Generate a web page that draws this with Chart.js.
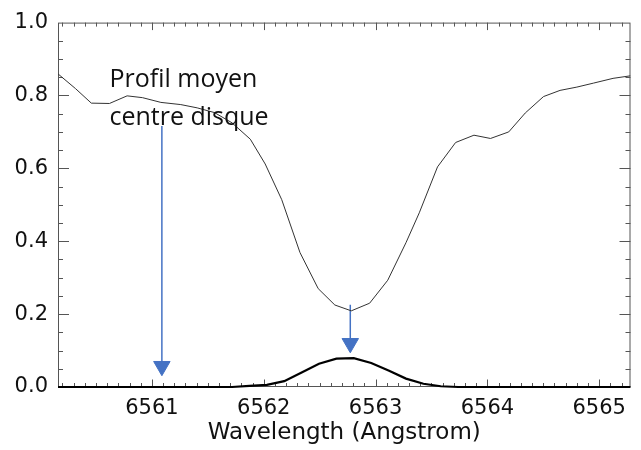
<!DOCTYPE html>
<html>
<head>
<meta charset="utf-8">
<script src="https://cdn.jsdelivr.net/npm/chart.js@4.4.1/dist/chart.umd.min.js"></script>
<style>
  body { margin: 0; background: #fff; }
  #wrap { width: 641px; height: 450px; }
</style>
</head>
<body>
<div id="wrap"><canvas id="profil"></canvas></div>
<script>
// Profil moyen centre disque (longueur d'onde en Angstrom)
var lambdaProfil = [6560.161, 6560.316, 6560.458, 6560.620, 6560.778, 6560.916, 6561.080, 6561.258,
  6561.405, 6561.560, 6561.716, 6561.880, 6562.013, 6562.161, 6562.324, 6562.487, 6562.636,
  6562.783, 6562.947, 6563.109, 6563.272, 6563.391, 6563.554, 6563.716, 6563.880, 6564.028,
  6564.191, 6564.339, 6564.502, 6564.650, 6564.800, 6564.950, 6565.124, 6565.280];
var profilMoyen = [0.859, 0.819, 0.779, 0.778, 0.799, 0.794, 0.781, 0.775,
  0.766, 0.753, 0.725, 0.680, 0.612, 0.514, 0.369, 0.270, 0.225,
  0.209, 0.230, 0.293, 0.396, 0.478, 0.604, 0.671, 0.691, 0.682,
  0.700, 0.752, 0.797, 0.814, 0.823, 0.834, 0.847, 0.854];

// Raie en emission (trait epais)
var lambdaEmission = [6560.16, 6561.716, 6561.872, 6562.028, 6562.183, 6562.339, 6562.494, 6562.650,
  6562.805, 6562.961, 6563.116, 6563.272, 6563.428, 6563.583, 6563.739, 6565.28];
var emission = [0, 0, 0.003, 0.006, 0.016, 0.040, 0.064, 0.078,
  0.079, 0.066, 0.045, 0.023, 0.009, 0.002, 0, 0];

// Fleches bleues (x, haut, centre de la pointe)
var flecheX = [6561.089, 6562.774];
var flecheHaut = [0.716, 0.226];
var flecheBas = [0.057, 0.120];

// Graduations
var ticksX = [6561, 6562, 6563, 6564, 6565];
var ticksY = [0.0, 0.2, 0.4, 0.6, 0.8, 1.0];

var annotation = ['Profil moyen', 'centre disque'];

var bleu = '#4472c4';

function points(xs, ys) {
  return xs.map(function (x, i) { return { x: x, y: ys[i] }; });
}

var fleches = flecheX.map(function (x, i) {
  return {
    data: [{ x: x, y: flecheHaut[i] }, { x: x, y: flecheBas[i] }],
    showLine: true,
    borderColor: bleu,
    borderWidth: 1.5,
    pointRadius: [0, 9.5],
    pointStyle: 'triangle',
    pointRotation: 180,
    pointBackgroundColor: bleu,
    pointBorderColor: bleu,
    pointBorderWidth: 1
  };
});

// cadre + petites graduations vers l'interieur (style IDL)
var cadre = {
  id: 'cadre',
  beforeDatasetsDraw: function (chart) {
    var c = chart.ctx, a = chart.chartArea;
    var sx = chart.scales.x, sy = chart.scales.y;
    c.save();
    c.strokeStyle = '#555';
    c.lineWidth = 1;
    c.strokeRect(a.left + 0.5, a.top + 0.5, a.right - a.left - 1, a.bottom - a.top - 1);
    c.beginPath();
    for (var k = 65602; k <= 65652; k++) {
      var px = Math.round(sx.getPixelForValue(k / 10)) + 0.5;
      var len = (k % 10 === 0) ? 7.5 : 4;
      c.moveTo(px, a.top); c.lineTo(px, a.top + len);
      c.moveTo(px, a.bottom); c.lineTo(px, a.bottom - len);
    }
    for (var j = 1; j < 20; j++) {
      var py = Math.round(sy.getPixelForValue(j * 0.05)) + 0.5;
      var l2 = (j % 4 === 0) ? 11 : 5;
      c.moveTo(a.left, py); c.lineTo(a.left + l2, py);
      c.moveTo(a.right, py); c.lineTo(a.right - l2, py);
    }
    c.stroke();
    c.restore();
  },
  afterDatasetsDraw: function (chart) {
    var c = chart.ctx;
    var sx = chart.scales.x, sy = chart.scales.y;
    c.save();
    c.fillStyle = '#111';
    c.font = '25px "Open Sans"';
    c.textBaseline = 'alphabetic';
    c.fillText(annotation[0], sx.getPixelForValue(6560.62), sy.getPixelForValue(0.823));
    c.fillText(annotation[1], sx.getPixelForValue(6560.62), sy.getPixelForValue(0.719));
    c.restore();
  }
};

new Chart(document.getElementById('profil'), {
  type: 'scatter',
  data: {
    datasets: [{
      data: points(lambdaProfil, profilMoyen),
      showLine: true,
      borderColor: '#333',
      borderWidth: 1,
      pointRadius: 0,
      tension: 0
    }, {
      data: points(lambdaEmission, emission),
      showLine: true,
      borderColor: '#000',
      borderWidth: 2.2,
      pointRadius: 0,
      tension: 0,
      clip: false
    }].concat(fleches)
  },
  plugins: [cadre],
  options: {
    responsive: true,
    maintainAspectRatio: false,
    animation: false,
    layout: { padding: { left: 0, right: 7, top: 17, bottom: 0 } },
    plugins: { legend: { display: false }, tooltip: { enabled: false } },
    scales: {
      x: {
        type: 'linear',
        min: 6560.16,
        max: 6565.28,
        afterBuildTicks: function (s) { s.ticks = ticksX.map(function (v) { return { value: v }; }); },
        afterFit: function (s) { s.height = 63; },
        grid: { display: false, drawTicks: false },
        border: { display: false },
        ticks: {
          color: '#111',
          padding: 9,
          font: { family: 'DejaVu Sans', size: 21 },
          maxRotation: 0,
          callback: function (v) { return String(v); }
        },
        title: {
          display: true,
          text: 'Wavelength (Angstrom)',
          color: '#111',
          font: { family: 'DejaVu Sans', size: 23 },
          padding: { top: 0, bottom: 3 }
        }
      },
      y: {
        min: 0,
        max: 1,
        afterBuildTicks: function (s) { s.ticks = ticksY.map(function (v) { return { value: v }; }); },
        afterFit: function (s) { s.width = 58; },
        grid: { display: false, drawTicks: false },
        border: { display: false },
        ticks: {
          color: '#111',
          padding: 10,
          font: { family: 'DejaVu Sans', size: 21 },
          callback: function (v) { return v.toFixed(1); }
        }
      }
    }
  }
});
</script>
</body>
</html>
